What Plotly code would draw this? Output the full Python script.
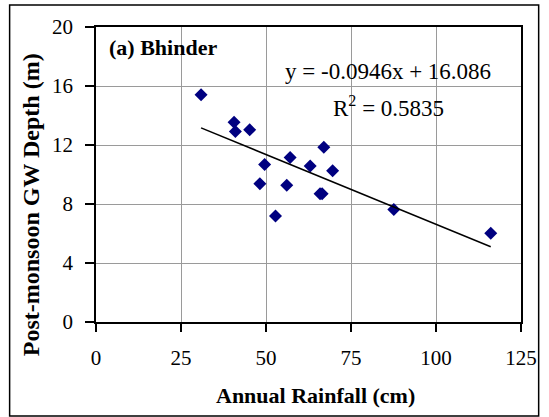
import plotly.graph_objects as go

# Data
rainfall_cm = [30.9, 40.6, 41.0, 45.2, 49.6, 48.2, 52.8, 57.1, 56.1, 63.0, 67.0, 69.6, 65.9, 66.5, 87.6, 116.1]
gw_depth_m = [15.40, 13.55, 12.92, 13.03, 10.67, 9.38, 7.19, 11.16, 9.27, 10.57, 11.84, 10.26, 8.70, 8.70, 7.62, 6.02]

slope = -0.0946
intercept = 16.086
r_squared = 0.5835

x_ticks = [0, 25, 50, 75, 100, 125]
y_ticks = [0, 4, 8, 12, 16, 20]

x_title = "Annual Rainfall (cm)"
y_title = "Post-monsoon GW Depth (m)"

trend_x = [min(rainfall_cm), max(rainfall_cm)]
trend_y = [slope * v + intercept for v in trend_x]

FONT = "Liberation Serif, Times New Roman, serif"

fig = go.Figure()
fig.add_trace(go.Scatter(x=rainfall_cm, y=gw_depth_m, mode="markers",
                         marker=dict(symbol="diamond", size=10, color="#000080"),
                         showlegend=False))
fig.add_trace(go.Scatter(x=trend_x, y=trend_y, mode="lines",
                         line=dict(color="black", width=1.5), showlegend=False))

fig.update_layout(
    width=549, height=417,
    margin=dict(l=96, r=20, t=27, b=95),
    paper_bgcolor="white", plot_bgcolor="white",
    font=dict(family=FONT, color="black", size=21),
)
fig.update_xaxes(range=[0, 125], tickvals=x_ticks, showgrid=True, gridcolor="#9a9a9a", gridwidth=1,
                 showline=True, linecolor="black", linewidth=1.5, mirror=True,
                 ticks="outside", ticklen=8, tickcolor="black", tickwidth=1.5,
                 tickfont=dict(size=21), ticklabelstandoff=8, zeroline=False)
fig.update_yaxes(range=[0, 20], tickvals=y_ticks, showgrid=True, gridcolor="#9a9a9a", gridwidth=1,
                 showline=True, linecolor="black", linewidth=1.5, mirror=True,
                 ticks="outside", ticklen=9, tickcolor="black", tickwidth=1.5,
                 tickfont=dict(size=21), ticklabelstandoff=8, zeroline=False)

# axis titles (positioned as in the reference)
fig.add_annotation(x=(320 - 96) / 433, y=(322 - 395) / 295, xref="paper", yref="paper",
                   text=f"<b>{x_title}</b>", showarrow=False, xanchor="center", yanchor="middle",
                   font=dict(size=22))
fig.add_annotation(x=(30 - 96) / 433, y=(322 - 205) / 295, xref="paper", yref="paper",
                   text=f"<b>{y_title}</b>", showarrow=False, xanchor="center", yanchor="middle",
                   textangle=-90, font=dict(size=24))

fig.add_annotation(x=3.2, y=18.6, xref="x", yref="y", text="<b>(a) Bhinder</b>",
                   showarrow=False, xanchor="left", font=dict(size=22))
fig.add_annotation(x=85.9, y=17.0, xref="x", yref="y",
                   text=f"y = {slope}x + {intercept}", showarrow=False, xanchor="center", font=dict(size=23))
fig.add_annotation(x=85.9, y=14.6, xref="x", yref="y",
                   text=f"R<sup>2</sup> = {r_squared}", showarrow=False, xanchor="center", font=dict(size=23))

# outer chart border
fig.add_shape(type="rect", xref="paper", yref="paper",
              x0=(8 - 96) / 433, x1=(547 - 96) / 433, y0=(322 - 416) / 295, y1=(322 - 5) / 295,
              line=dict(color="black", width=1.5), fillcolor="rgba(0,0,0,0)")

fig.write_html("out.html", config={"displayModeBar": False},
               post_script="document.body.style.margin='0';")
